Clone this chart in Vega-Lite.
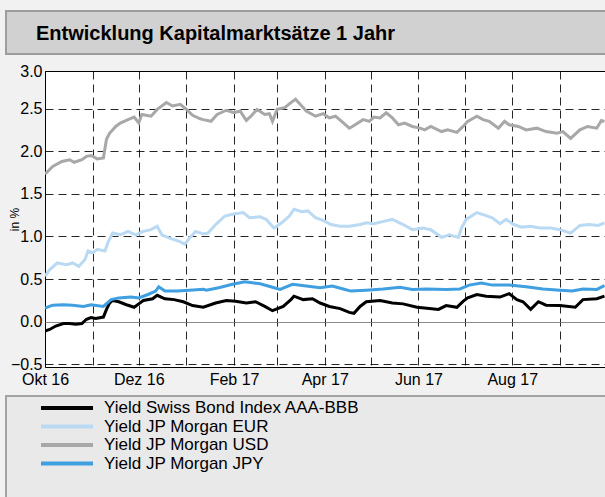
{
  "$schema": "https://vega.github.io/schema/vega-lite/v6.json",
  "background": "#f1f1f1",
  "padding": {"left": 5, "top": 10, "right": 0, "bottom": 0},
  "config": {
    "font": "Liberation Sans",
    "view": {"stroke": null}
  },
  "spacing": 7,
  "vconcat": [
    {
      "width": 602,
      "height": 43,
      "view": {"fill": "#d1d1d1", "stroke": "#9d9d9d", "strokeWidth": 2},
      "data": {"values": [{"t": "Entwicklung Kapitalmarktsätze 1 Jahr"}]},
      "mark": {
        "type": "text",
        "align": "left",
        "baseline": "alphabetic",
        "dx": -271,
        "dy": 7.5,
        "fontSize": 20,
        "fontWeight": "bold",
        "color": "#000"
      },
      "encoding": {"text": {"field": "t"}}
    },
    {
      "spacing": 0,
      "hconcat": [
        {
          "width": 1,
          "height": 296,
          "data": {"values": [{}]},
          "mark": {"type": "text"},
          "encoding": {"text": {"value": ""}}
        },
        {
          "width": 561,
          "height": 296,
          "view": {"fill": "#ffffff", "stroke": "#000000", "strokeWidth": 1},
          "data": {
            "values": [
              {"s": "Yield Swiss Bond Index AAA-BBB", "d": "2016-10-01", "v": -0.11},
              {"s": "Yield Swiss Bond Index AAA-BBB", "d": "2016-10-04", "v": -0.09},
              {"s": "Yield Swiss Bond Index AAA-BBB", "d": "2016-10-08", "v": -0.05},
              {"s": "Yield Swiss Bond Index AAA-BBB", "d": "2016-10-13", "v": -0.02},
              {"s": "Yield Swiss Bond Index AAA-BBB", "d": "2016-10-17", "v": -0.02},
              {"s": "Yield Swiss Bond Index AAA-BBB", "d": "2016-10-21", "v": -0.03},
              {"s": "Yield Swiss Bond Index AAA-BBB", "d": "2016-10-25", "v": -0.02},
              {"s": "Yield Swiss Bond Index AAA-BBB", "d": "2016-10-28", "v": 0.03},
              {"s": "Yield Swiss Bond Index AAA-BBB", "d": "2016-10-31", "v": 0.05},
              {"s": "Yield Swiss Bond Index AAA-BBB", "d": "2016-11-03", "v": 0.04},
              {"s": "Yield Swiss Bond Index AAA-BBB", "d": "2016-11-08", "v": 0.055},
              {"s": "Yield Swiss Bond Index AAA-BBB", "d": "2016-11-10", "v": 0.145},
              {"s": "Yield Swiss Bond Index AAA-BBB", "d": "2016-11-12", "v": 0.22},
              {"s": "Yield Swiss Bond Index AAA-BBB", "d": "2016-11-14", "v": 0.25},
              {"s": "Yield Swiss Bond Index AAA-BBB", "d": "2016-11-18", "v": 0.235},
              {"s": "Yield Swiss Bond Index AAA-BBB", "d": "2016-11-23", "v": 0.2},
              {"s": "Yield Swiss Bond Index AAA-BBB", "d": "2016-11-28", "v": 0.17},
              {"s": "Yield Swiss Bond Index AAA-BBB", "d": "2016-12-01", "v": 0.21},
              {"s": "Yield Swiss Bond Index AAA-BBB", "d": "2016-12-04", "v": 0.25},
              {"s": "Yield Swiss Bond Index AAA-BBB", "d": "2016-12-10", "v": 0.27},
              {"s": "Yield Swiss Bond Index AAA-BBB", "d": "2016-12-13", "v": 0.31},
              {"s": "Yield Swiss Bond Index AAA-BBB", "d": "2016-12-18", "v": 0.27},
              {"s": "Yield Swiss Bond Index AAA-BBB", "d": "2016-12-24", "v": 0.26},
              {"s": "Yield Swiss Bond Index AAA-BBB", "d": "2016-12-30", "v": 0.235},
              {"s": "Yield Swiss Bond Index AAA-BBB", "d": "2017-01-05", "v": 0.19},
              {"s": "Yield Swiss Bond Index AAA-BBB", "d": "2017-01-12", "v": 0.17},
              {"s": "Yield Swiss Bond Index AAA-BBB", "d": "2017-01-20", "v": 0.22},
              {"s": "Yield Swiss Bond Index AAA-BBB", "d": "2017-01-27", "v": 0.25},
              {"s": "Yield Swiss Bond Index AAA-BBB", "d": "2017-02-02", "v": 0.24},
              {"s": "Yield Swiss Bond Index AAA-BBB", "d": "2017-02-09", "v": 0.22},
              {"s": "Yield Swiss Bond Index AAA-BBB", "d": "2017-02-15", "v": 0.235},
              {"s": "Yield Swiss Bond Index AAA-BBB", "d": "2017-02-21", "v": 0.18},
              {"s": "Yield Swiss Bond Index AAA-BBB", "d": "2017-02-26", "v": 0.13},
              {"s": "Yield Swiss Bond Index AAA-BBB", "d": "2017-03-05", "v": 0.18},
              {"s": "Yield Swiss Bond Index AAA-BBB", "d": "2017-03-10", "v": 0.26},
              {"s": "Yield Swiss Bond Index AAA-BBB", "d": "2017-03-12", "v": 0.3},
              {"s": "Yield Swiss Bond Index AAA-BBB", "d": "2017-03-18", "v": 0.26},
              {"s": "Yield Swiss Bond Index AAA-BBB", "d": "2017-03-24", "v": 0.27},
              {"s": "Yield Swiss Bond Index AAA-BBB", "d": "2017-03-29", "v": 0.22},
              {"s": "Yield Swiss Bond Index AAA-BBB", "d": "2017-04-04", "v": 0.18},
              {"s": "Yield Swiss Bond Index AAA-BBB", "d": "2017-04-11", "v": 0.155},
              {"s": "Yield Swiss Bond Index AAA-BBB", "d": "2017-04-17", "v": 0.11},
              {"s": "Yield Swiss Bond Index AAA-BBB", "d": "2017-04-20", "v": 0.1},
              {"s": "Yield Swiss Bond Index AAA-BBB", "d": "2017-04-24", "v": 0.18},
              {"s": "Yield Swiss Bond Index AAA-BBB", "d": "2017-04-28", "v": 0.235},
              {"s": "Yield Swiss Bond Index AAA-BBB", "d": "2017-05-07", "v": 0.25},
              {"s": "Yield Swiss Bond Index AAA-BBB", "d": "2017-05-15", "v": 0.22},
              {"s": "Yield Swiss Bond Index AAA-BBB", "d": "2017-05-22", "v": 0.21},
              {"s": "Yield Swiss Bond Index AAA-BBB", "d": "2017-05-31", "v": 0.17},
              {"s": "Yield Swiss Bond Index AAA-BBB", "d": "2017-06-08", "v": 0.155},
              {"s": "Yield Swiss Bond Index AAA-BBB", "d": "2017-06-14", "v": 0.145},
              {"s": "Yield Swiss Bond Index AAA-BBB", "d": "2017-06-19", "v": 0.19},
              {"s": "Yield Swiss Bond Index AAA-BBB", "d": "2017-06-26", "v": 0.17},
              {"s": "Yield Swiss Bond Index AAA-BBB", "d": "2017-06-30", "v": 0.24},
              {"s": "Yield Swiss Bond Index AAA-BBB", "d": "2017-07-03", "v": 0.28},
              {"s": "Yield Swiss Bond Index AAA-BBB", "d": "2017-07-09", "v": 0.32},
              {"s": "Yield Swiss Bond Index AAA-BBB", "d": "2017-07-15", "v": 0.3},
              {"s": "Yield Swiss Bond Index AAA-BBB", "d": "2017-07-24", "v": 0.29},
              {"s": "Yield Swiss Bond Index AAA-BBB", "d": "2017-07-30", "v": 0.33},
              {"s": "Yield Swiss Bond Index AAA-BBB", "d": "2017-08-04", "v": 0.26},
              {"s": "Yield Swiss Bond Index AAA-BBB", "d": "2017-08-08", "v": 0.235},
              {"s": "Yield Swiss Bond Index AAA-BBB", "d": "2017-08-13", "v": 0.145},
              {"s": "Yield Swiss Bond Index AAA-BBB", "d": "2017-08-18", "v": 0.235},
              {"s": "Yield Swiss Bond Index AAA-BBB", "d": "2017-08-23", "v": 0.195},
              {"s": "Yield Swiss Bond Index AAA-BBB", "d": "2017-09-01", "v": 0.19},
              {"s": "Yield Swiss Bond Index AAA-BBB", "d": "2017-09-11", "v": 0.17},
              {"s": "Yield Swiss Bond Index AAA-BBB", "d": "2017-09-16", "v": 0.26},
              {"s": "Yield Swiss Bond Index AAA-BBB", "d": "2017-09-25", "v": 0.27},
              {"s": "Yield Swiss Bond Index AAA-BBB", "d": "2017-09-30", "v": 0.3},

              {"s": "Yield JP Morgan EUR", "d": "2016-10-01", "v": 0.535},
              {"s": "Yield JP Morgan EUR", "d": "2016-10-04", "v": 0.61},
              {"s": "Yield JP Morgan EUR", "d": "2016-10-09", "v": 0.69},
              {"s": "Yield JP Morgan EUR", "d": "2016-10-15", "v": 0.67},
              {"s": "Yield JP Morgan EUR", "d": "2016-10-19", "v": 0.69},
              {"s": "Yield JP Morgan EUR", "d": "2016-10-23", "v": 0.65},
              {"s": "Yield JP Morgan EUR", "d": "2016-10-27", "v": 0.73},
              {"s": "Yield JP Morgan EUR", "d": "2016-10-29", "v": 0.83},
              {"s": "Yield JP Morgan EUR", "d": "2016-11-01", "v": 0.81},
              {"s": "Yield JP Morgan EUR", "d": "2016-11-04", "v": 0.85},
              {"s": "Yield JP Morgan EUR", "d": "2016-11-09", "v": 0.83},
              {"s": "Yield JP Morgan EUR", "d": "2016-11-11", "v": 0.93},
              {"s": "Yield JP Morgan EUR", "d": "2016-11-14", "v": 1.04},
              {"s": "Yield JP Morgan EUR", "d": "2016-11-19", "v": 1.02},
              {"s": "Yield JP Morgan EUR", "d": "2016-11-24", "v": 1.06},
              {"s": "Yield JP Morgan EUR", "d": "2016-11-29", "v": 1.02},
              {"s": "Yield JP Morgan EUR", "d": "2016-12-04", "v": 1.06},
              {"s": "Yield JP Morgan EUR", "d": "2016-12-09", "v": 1.08},
              {"s": "Yield JP Morgan EUR", "d": "2016-12-13", "v": 1.12},
              {"s": "Yield JP Morgan EUR", "d": "2016-12-16", "v": 1.02},
              {"s": "Yield JP Morgan EUR", "d": "2016-12-21", "v": 0.98},
              {"s": "Yield JP Morgan EUR", "d": "2016-12-27", "v": 0.945},
              {"s": "Yield JP Morgan EUR", "d": "2016-12-31", "v": 0.91},
              {"s": "Yield JP Morgan EUR", "d": "2017-01-03", "v": 0.98},
              {"s": "Yield JP Morgan EUR", "d": "2017-01-07", "v": 1.06},
              {"s": "Yield JP Morgan EUR", "d": "2017-01-12", "v": 1.03},
              {"s": "Yield JP Morgan EUR", "d": "2017-01-15", "v": 1.04},
              {"s": "Yield JP Morgan EUR", "d": "2017-01-20", "v": 1.14},
              {"s": "Yield JP Morgan EUR", "d": "2017-01-26", "v": 1.24},
              {"s": "Yield JP Morgan EUR", "d": "2017-01-31", "v": 1.26},
              {"s": "Yield JP Morgan EUR", "d": "2017-02-07", "v": 1.28},
              {"s": "Yield JP Morgan EUR", "d": "2017-02-11", "v": 1.22},
              {"s": "Yield JP Morgan EUR", "d": "2017-02-18", "v": 1.23},
              {"s": "Yield JP Morgan EUR", "d": "2017-02-22", "v": 1.2},
              {"s": "Yield JP Morgan EUR", "d": "2017-02-27", "v": 1.1},
              {"s": "Yield JP Morgan EUR", "d": "2017-03-04", "v": 1.16},
              {"s": "Yield JP Morgan EUR", "d": "2017-03-09", "v": 1.24},
              {"s": "Yield JP Morgan EUR", "d": "2017-03-12", "v": 1.32},
              {"s": "Yield JP Morgan EUR", "d": "2017-03-17", "v": 1.29},
              {"s": "Yield JP Morgan EUR", "d": "2017-03-21", "v": 1.3},
              {"s": "Yield JP Morgan EUR", "d": "2017-03-26", "v": 1.22},
              {"s": "Yield JP Morgan EUR", "d": "2017-04-01", "v": 1.18},
              {"s": "Yield JP Morgan EUR", "d": "2017-04-05", "v": 1.14},
              {"s": "Yield JP Morgan EUR", "d": "2017-04-11", "v": 1.12},
              {"s": "Yield JP Morgan EUR", "d": "2017-04-17", "v": 1.12},
              {"s": "Yield JP Morgan EUR", "d": "2017-04-24", "v": 1.14},
              {"s": "Yield JP Morgan EUR", "d": "2017-04-28", "v": 1.16},
              {"s": "Yield JP Morgan EUR", "d": "2017-05-03", "v": 1.15},
              {"s": "Yield JP Morgan EUR", "d": "2017-05-10", "v": 1.18},
              {"s": "Yield JP Morgan EUR", "d": "2017-05-15", "v": 1.2},
              {"s": "Yield JP Morgan EUR", "d": "2017-05-22", "v": 1.14},
              {"s": "Yield JP Morgan EUR", "d": "2017-05-28", "v": 1.08},
              {"s": "Yield JP Morgan EUR", "d": "2017-06-04", "v": 1.1},
              {"s": "Yield JP Morgan EUR", "d": "2017-06-09", "v": 1.08},
              {"s": "Yield JP Morgan EUR", "d": "2017-06-16", "v": 0.99},
              {"s": "Yield JP Morgan EUR", "d": "2017-06-21", "v": 1.02},
              {"s": "Yield JP Morgan EUR", "d": "2017-06-27", "v": 0.99},
              {"s": "Yield JP Morgan EUR", "d": "2017-06-29", "v": 1.1},
              {"s": "Yield JP Morgan EUR", "d": "2017-07-02", "v": 1.2},
              {"s": "Yield JP Morgan EUR", "d": "2017-07-09", "v": 1.28},
              {"s": "Yield JP Morgan EUR", "d": "2017-07-14", "v": 1.25},
              {"s": "Yield JP Morgan EUR", "d": "2017-07-19", "v": 1.22},
              {"s": "Yield JP Morgan EUR", "d": "2017-07-24", "v": 1.15},
              {"s": "Yield JP Morgan EUR", "d": "2017-07-28", "v": 1.2},
              {"s": "Yield JP Morgan EUR", "d": "2017-08-02", "v": 1.14},
              {"s": "Yield JP Morgan EUR", "d": "2017-08-07", "v": 1.11},
              {"s": "Yield JP Morgan EUR", "d": "2017-08-13", "v": 1.12},
              {"s": "Yield JP Morgan EUR", "d": "2017-08-19", "v": 1.1},
              {"s": "Yield JP Morgan EUR", "d": "2017-08-26", "v": 1.1},
              {"s": "Yield JP Morgan EUR", "d": "2017-09-01", "v": 1.08},
              {"s": "Yield JP Morgan EUR", "d": "2017-09-08", "v": 1.04},
              {"s": "Yield JP Morgan EUR", "d": "2017-09-14", "v": 1.13},
              {"s": "Yield JP Morgan EUR", "d": "2017-09-20", "v": 1.14},
              {"s": "Yield JP Morgan EUR", "d": "2017-09-26", "v": 1.13},
              {"s": "Yield JP Morgan EUR", "d": "2017-09-30", "v": 1.16},

              {"s": "Yield JP Morgan USD", "d": "2016-10-01", "v": 1.73},
              {"s": "Yield JP Morgan USD", "d": "2016-10-06", "v": 1.82},
              {"s": "Yield JP Morgan USD", "d": "2016-10-12", "v": 1.88},
              {"s": "Yield JP Morgan USD", "d": "2016-10-17", "v": 1.9},
              {"s": "Yield JP Morgan USD", "d": "2016-10-20", "v": 1.87},
              {"s": "Yield JP Morgan USD", "d": "2016-10-25", "v": 1.9},
              {"s": "Yield JP Morgan USD", "d": "2016-10-28", "v": 1.94},
              {"s": "Yield JP Morgan USD", "d": "2016-10-31", "v": 1.95},
              {"s": "Yield JP Morgan USD", "d": "2016-11-04", "v": 1.91},
              {"s": "Yield JP Morgan USD", "d": "2016-11-08", "v": 1.92},
              {"s": "Yield JP Morgan USD", "d": "2016-11-10", "v": 2.14},
              {"s": "Yield JP Morgan USD", "d": "2016-11-12", "v": 2.21},
              {"s": "Yield JP Morgan USD", "d": "2016-11-16", "v": 2.29},
              {"s": "Yield JP Morgan USD", "d": "2016-11-19", "v": 2.33},
              {"s": "Yield JP Morgan USD", "d": "2016-11-24", "v": 2.37},
              {"s": "Yield JP Morgan USD", "d": "2016-11-28", "v": 2.4},
              {"s": "Yield JP Morgan USD", "d": "2016-12-01", "v": 2.33},
              {"s": "Yield JP Morgan USD", "d": "2016-12-03", "v": 2.43},
              {"s": "Yield JP Morgan USD", "d": "2016-12-09", "v": 2.41},
              {"s": "Yield JP Morgan USD", "d": "2016-12-13", "v": 2.49},
              {"s": "Yield JP Morgan USD", "d": "2016-12-19", "v": 2.57},
              {"s": "Yield JP Morgan USD", "d": "2016-12-23", "v": 2.53},
              {"s": "Yield JP Morgan USD", "d": "2016-12-28", "v": 2.55},
              {"s": "Yield JP Morgan USD", "d": "2017-01-01", "v": 2.49},
              {"s": "Yield JP Morgan USD", "d": "2017-01-05", "v": 2.42},
              {"s": "Yield JP Morgan USD", "d": "2017-01-10", "v": 2.38},
              {"s": "Yield JP Morgan USD", "d": "2017-01-12", "v": 2.37},
              {"s": "Yield JP Morgan USD", "d": "2017-01-17", "v": 2.35},
              {"s": "Yield JP Morgan USD", "d": "2017-01-21", "v": 2.43},
              {"s": "Yield JP Morgan USD", "d": "2017-01-27", "v": 2.48},
              {"s": "Yield JP Morgan USD", "d": "2017-02-01", "v": 2.45},
              {"s": "Yield JP Morgan USD", "d": "2017-02-05", "v": 2.47},
              {"s": "Yield JP Morgan USD", "d": "2017-02-09", "v": 2.36},
              {"s": "Yield JP Morgan USD", "d": "2017-02-12", "v": 2.41},
              {"s": "Yield JP Morgan USD", "d": "2017-02-16", "v": 2.49},
              {"s": "Yield JP Morgan USD", "d": "2017-02-21", "v": 2.43},
              {"s": "Yield JP Morgan USD", "d": "2017-02-24", "v": 2.44},
              {"s": "Yield JP Morgan USD", "d": "2017-02-26", "v": 2.35},
              {"s": "Yield JP Morgan USD", "d": "2017-03-01", "v": 2.49},
              {"s": "Yield JP Morgan USD", "d": "2017-03-06", "v": 2.51},
              {"s": "Yield JP Morgan USD", "d": "2017-03-10", "v": 2.57},
              {"s": "Yield JP Morgan USD", "d": "2017-03-13", "v": 2.61},
              {"s": "Yield JP Morgan USD", "d": "2017-03-16", "v": 2.55},
              {"s": "Yield JP Morgan USD", "d": "2017-03-20", "v": 2.47},
              {"s": "Yield JP Morgan USD", "d": "2017-03-26", "v": 2.41},
              {"s": "Yield JP Morgan USD", "d": "2017-03-31", "v": 2.44},
              {"s": "Yield JP Morgan USD", "d": "2017-04-04", "v": 2.39},
              {"s": "Yield JP Morgan USD", "d": "2017-04-08", "v": 2.41},
              {"s": "Yield JP Morgan USD", "d": "2017-04-12", "v": 2.35},
              {"s": "Yield JP Morgan USD", "d": "2017-04-17", "v": 2.27},
              {"s": "Yield JP Morgan USD", "d": "2017-04-19", "v": 2.29},
              {"s": "Yield JP Morgan USD", "d": "2017-04-26", "v": 2.37},
              {"s": "Yield JP Morgan USD", "d": "2017-04-30", "v": 2.35},
              {"s": "Yield JP Morgan USD", "d": "2017-05-03", "v": 2.4},
              {"s": "Yield JP Morgan USD", "d": "2017-05-07", "v": 2.39},
              {"s": "Yield JP Morgan USD", "d": "2017-05-11", "v": 2.45},
              {"s": "Yield JP Morgan USD", "d": "2017-05-15", "v": 2.39},
              {"s": "Yield JP Morgan USD", "d": "2017-05-19", "v": 2.31},
              {"s": "Yield JP Morgan USD", "d": "2017-05-23", "v": 2.33},
              {"s": "Yield JP Morgan USD", "d": "2017-05-28", "v": 2.29},
              {"s": "Yield JP Morgan USD", "d": "2017-06-02", "v": 2.27},
              {"s": "Yield JP Morgan USD", "d": "2017-06-05", "v": 2.25},
              {"s": "Yield JP Morgan USD", "d": "2017-06-09", "v": 2.29},
              {"s": "Yield JP Morgan USD", "d": "2017-06-16", "v": 2.23},
              {"s": "Yield JP Morgan USD", "d": "2017-06-20", "v": 2.25},
              {"s": "Yield JP Morgan USD", "d": "2017-06-26", "v": 2.22},
              {"s": "Yield JP Morgan USD", "d": "2017-06-30", "v": 2.29},
              {"s": "Yield JP Morgan USD", "d": "2017-07-03", "v": 2.35},
              {"s": "Yield JP Morgan USD", "d": "2017-07-09", "v": 2.41},
              {"s": "Yield JP Morgan USD", "d": "2017-07-13", "v": 2.37},
              {"s": "Yield JP Morgan USD", "d": "2017-07-17", "v": 2.35},
              {"s": "Yield JP Morgan USD", "d": "2017-07-23", "v": 2.27},
              {"s": "Yield JP Morgan USD", "d": "2017-07-27", "v": 2.35},
              {"s": "Yield JP Morgan USD", "d": "2017-07-30", "v": 2.31},
              {"s": "Yield JP Morgan USD", "d": "2017-08-05", "v": 2.29},
              {"s": "Yield JP Morgan USD", "d": "2017-08-10", "v": 2.25},
              {"s": "Yield JP Morgan USD", "d": "2017-08-17", "v": 2.27},
              {"s": "Yield JP Morgan USD", "d": "2017-08-23", "v": 2.23},
              {"s": "Yield JP Morgan USD", "d": "2017-08-30", "v": 2.21},
              {"s": "Yield JP Morgan USD", "d": "2017-09-03", "v": 2.23},
              {"s": "Yield JP Morgan USD", "d": "2017-09-08", "v": 2.15},
              {"s": "Yield JP Morgan USD", "d": "2017-09-14", "v": 2.25},
              {"s": "Yield JP Morgan USD", "d": "2017-09-19", "v": 2.29},
              {"s": "Yield JP Morgan USD", "d": "2017-09-25", "v": 2.27},
              {"s": "Yield JP Morgan USD", "d": "2017-09-28", "v": 2.36},
              {"s": "Yield JP Morgan USD", "d": "2017-09-30", "v": 2.35},

              {"s": "Yield JP Morgan JPY", "d": "2016-10-01", "v": 0.16},
              {"s": "Yield JP Morgan JPY", "d": "2016-10-06", "v": 0.195},
              {"s": "Yield JP Morgan JPY", "d": "2016-10-13", "v": 0.2},
              {"s": "Yield JP Morgan JPY", "d": "2016-10-19", "v": 0.195},
              {"s": "Yield JP Morgan JPY", "d": "2016-10-26", "v": 0.18},
              {"s": "Yield JP Morgan JPY", "d": "2016-10-31", "v": 0.2},
              {"s": "Yield JP Morgan JPY", "d": "2016-11-08", "v": 0.18},
              {"s": "Yield JP Morgan JPY", "d": "2016-11-13", "v": 0.26},
              {"s": "Yield JP Morgan JPY", "d": "2016-11-18", "v": 0.28},
              {"s": "Yield JP Morgan JPY", "d": "2016-11-26", "v": 0.29},
              {"s": "Yield JP Morgan JPY", "d": "2016-12-01", "v": 0.28},
              {"s": "Yield JP Morgan JPY", "d": "2016-12-07", "v": 0.32},
              {"s": "Yield JP Morgan JPY", "d": "2016-12-12", "v": 0.36},
              {"s": "Yield JP Morgan JPY", "d": "2016-12-14", "v": 0.41},
              {"s": "Yield JP Morgan JPY", "d": "2016-12-18", "v": 0.36},
              {"s": "Yield JP Morgan JPY", "d": "2016-12-26", "v": 0.36},
              {"s": "Yield JP Morgan JPY", "d": "2017-01-03", "v": 0.37},
              {"s": "Yield JP Morgan JPY", "d": "2017-01-12", "v": 0.38},
              {"s": "Yield JP Morgan JPY", "d": "2017-01-14", "v": 0.37},
              {"s": "Yield JP Morgan JPY", "d": "2017-01-22", "v": 0.4},
              {"s": "Yield JP Morgan JPY", "d": "2017-01-31", "v": 0.44},
              {"s": "Yield JP Morgan JPY", "d": "2017-02-08", "v": 0.47},
              {"s": "Yield JP Morgan JPY", "d": "2017-02-18", "v": 0.445},
              {"s": "Yield JP Morgan JPY", "d": "2017-02-26", "v": 0.405},
              {"s": "Yield JP Morgan JPY", "d": "2017-03-03", "v": 0.38},
              {"s": "Yield JP Morgan JPY", "d": "2017-03-11", "v": 0.44},
              {"s": "Yield JP Morgan JPY", "d": "2017-03-20", "v": 0.42},
              {"s": "Yield JP Morgan JPY", "d": "2017-03-29", "v": 0.4},
              {"s": "Yield JP Morgan JPY", "d": "2017-04-06", "v": 0.42},
              {"s": "Yield JP Morgan JPY", "d": "2017-04-13", "v": 0.385},
              {"s": "Yield JP Morgan JPY", "d": "2017-04-18", "v": 0.36},
              {"s": "Yield JP Morgan JPY", "d": "2017-04-28", "v": 0.37},
              {"s": "Yield JP Morgan JPY", "d": "2017-05-09", "v": 0.385},
              {"s": "Yield JP Morgan JPY", "d": "2017-05-20", "v": 0.405},
              {"s": "Yield JP Morgan JPY", "d": "2017-05-28", "v": 0.38},
              {"s": "Yield JP Morgan JPY", "d": "2017-06-06", "v": 0.385},
              {"s": "Yield JP Morgan JPY", "d": "2017-06-19", "v": 0.38},
              {"s": "Yield JP Morgan JPY", "d": "2017-06-28", "v": 0.385},
              {"s": "Yield JP Morgan JPY", "d": "2017-07-04", "v": 0.43},
              {"s": "Yield JP Morgan JPY", "d": "2017-07-12", "v": 0.455},
              {"s": "Yield JP Morgan JPY", "d": "2017-07-19", "v": 0.43},
              {"s": "Yield JP Morgan JPY", "d": "2017-07-30", "v": 0.43},
              {"s": "Yield JP Morgan JPY", "d": "2017-08-10", "v": 0.41},
              {"s": "Yield JP Morgan JPY", "d": "2017-08-21", "v": 0.385},
              {"s": "Yield JP Morgan JPY", "d": "2017-09-01", "v": 0.37},
              {"s": "Yield JP Morgan JPY", "d": "2017-09-09", "v": 0.36},
              {"s": "Yield JP Morgan JPY", "d": "2017-09-16", "v": 0.385},
              {"s": "Yield JP Morgan JPY", "d": "2017-09-25", "v": 0.38},
              {"s": "Yield JP Morgan JPY", "d": "2017-09-30", "v": 0.425}
            ]
          },
          "mark": {"type": "line", "strokeWidth": 3, "clip": true},
          "encoding": {
            "x": {
              "field": "d",
              "type": "temporal",
              "scale": {
                "type": "utc",
                "domain": [
                  {"year": 2016, "month": 10, "date": 1, "utc": true},
                  {"year": 2017, "month": 10, "date": 1, "utc": true}
                ]
              },
              "axis": {
                "title": null,
                "values": [
                  {"year": 2016, "month": 10, "date": 1, "utc": true},
                  {"year": 2016, "month": 11, "date": 1, "utc": true},
                  {"year": 2016, "month": 12, "date": 1, "utc": true},
                  {"year": 2017, "month": 1, "date": 1, "utc": true},
                  {"year": 2017, "month": 2, "date": 1, "utc": true},
                  {"year": 2017, "month": 3, "date": 1, "utc": true},
                  {"year": 2017, "month": 4, "date": 1, "utc": true},
                  {"year": 2017, "month": 5, "date": 1, "utc": true},
                  {"year": 2017, "month": 6, "date": 1, "utc": true},
                  {"year": 2017, "month": 7, "date": 1, "utc": true},
                  {"year": 2017, "month": 8, "date": 1, "utc": true},
                  {"year": 2017, "month": 9, "date": 1, "utc": true}
                ],
                "labelExpr": "utcmonth(datum.value) % 2 == 1 ? ['Jan','Feb','Mär','Apr','Mai','Jun','Jul','Aug','Sep','Okt','Nov','Dez'][utcmonth(datum.value)] + ' ' + utcFormat(datum.value, '%y') : ''",
                "labelFlush": false,
                "labelOverlap": false,
                "labelFontSize": 16,
                "labelColor": "#000",
                "labelPadding": 4,
                "ticks": false,
                "domain": false,
                "grid": true,
                "gridColor": "#000",
                "gridDash": [8, 5],
                "gridWidth": 1,
                "gridOpacity": 0.85
              }
            },
            "y": {
              "field": "v",
              "type": "quantitative",
              "scale": {"domain": [-0.53, 2.94], "nice": false, "zero": false},
              "axis": {
                "title": "in %",
                "titleFontSize": 12,
                "titleFontWeight": "normal",
                "titleColor": "#000",
                "titleX": -24,
                "values": [-0.5, 0, 0.5, 1, 1.5, 2, 2.5, 2.94],
                "labelExpr": "datum.value > 2.9 ? '3.0' : format(datum.value, '.1f')",
                "labelFontSize": 16,
                "labelColor": "#000",
                "labelPadding": 3,
                "labelOverlap": false,
                "labelFlush": false,
                "ticks": false,
                "domain": false,
                "grid": true,
                "gridColor": {"condition": {"test": "datum.value === 0", "value": "#777777"}, "value": "#000000"},
                "gridDash": {"condition": {"test": "datum.value === 0", "value": []}, "value": [8, 5]},
                "gridWidth": 1,
                "gridOpacity": 0.85
              }
            },
            "color": {
              "field": "s",
              "type": "nominal",
              "scale": {
                "domain": ["Yield Swiss Bond Index AAA-BBB", "Yield JP Morgan EUR", "Yield JP Morgan USD", "Yield JP Morgan JPY"],
                "range": ["#000000", "#bad9f3", "#a8a8a8", "#3f9fe1"]
              },
              "legend": {
                "orient": "none",
                "legendX": 33,
                "legendY": 388,
                "title": null,
                "symbolType": "stroke",
                "symbolSize": 2704,
                "symbolStrokeWidth": 4,
                "clipHeight": 18,
                "rowPadding": 0.5,
                "labelFontSize": 17,
                "labelColor": "#000",
                "labelOffset": 9,
                "labelLimit": 400,
                "padding": 0
              }
            }
          }
        }
      ]
    },
    {
      "width": 602,
      "height": 110,
      "view": {"fill": "#e9e9e9", "stroke": "#a3a3a3", "strokeWidth": 2},
      "data": {"values": [{}]},
      "mark": {"type": "text"},
      "encoding": {"text": {"value": ""}}
    }
  ]
}
